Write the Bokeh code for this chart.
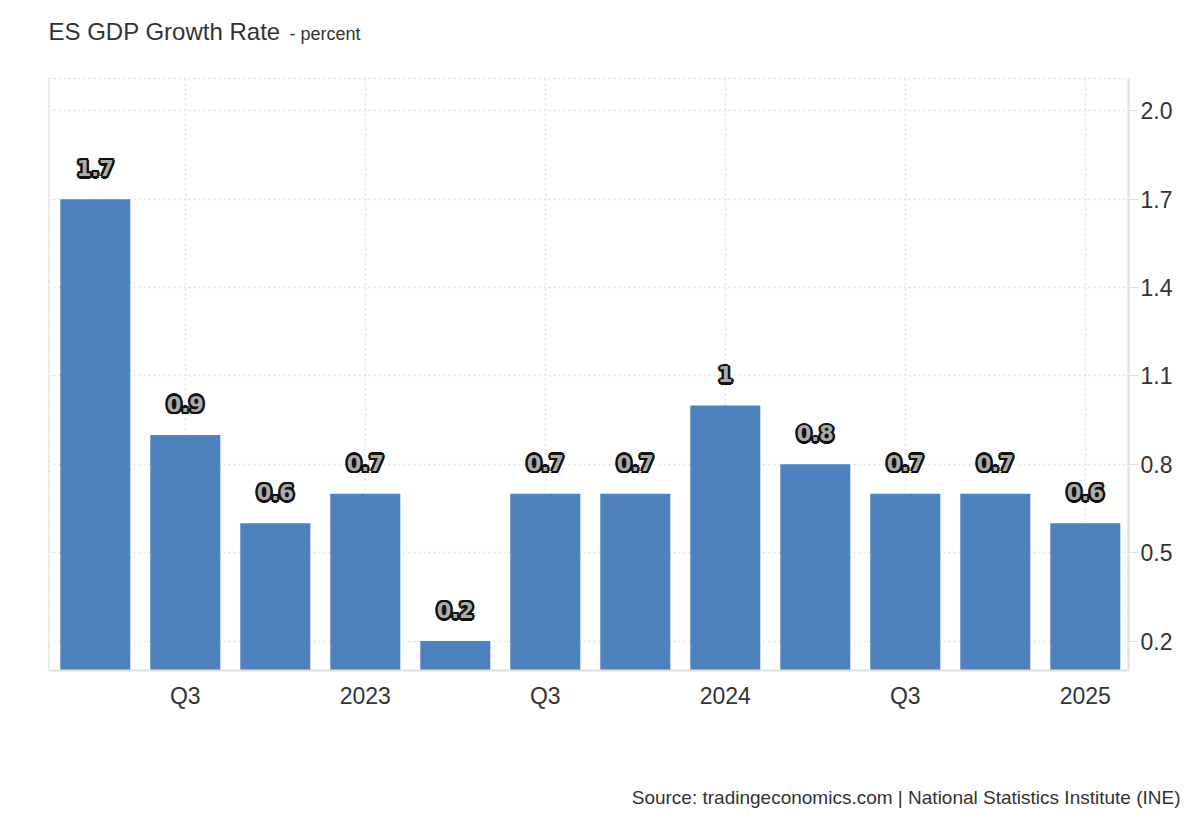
from bokeh.plotting import figure
from bokeh.models import ColumnDataSource, Range1d, FixedTicker, Span, Title
from bokeh.core.properties import value
from bokeh.embed import file_html
from bokeh.resources import INLINE

# ---- data ----
quarters = ["2022 Q2", "2022 Q3", "2022 Q4", "2023 Q1", "2023 Q2", "2023 Q3",
            "2023 Q4", "2024 Q1", "2024 Q2", "2024 Q3", "2024 Q4", "2025 Q1"]
growth = [1.7, 0.9, 0.6, 0.7, 0.2, 0.7, 0.7, 1.0, 0.8, 0.7, 0.7, 0.6]
x_tick_idx = [1, 3, 5, 7, 9, 11]
x_tick_labels = ["Q3", "2023", "Q3", "2024", "Q3", "2025"]
y_ticks = [0.2, 0.5, 0.8, 1.1, 1.4, 1.7, 2.0]
y_tick_labels = ["0.2", "0.5", "0.8", "1.1", "1.4", "1.7", "2.0"]

idx = list(range(len(quarters)))
src = ColumnDataSource(dict(x=idx, top=growth, q=quarters,
                            label=[f"{v:g}" for v in growth]))

FONT = "Liberation Sans"
TXT = "#333333"
GRID = "#e0e0e0"

p = figure(width=1184, height=812, output_backend="svg", toolbar_location=None,
           x_range=Range1d(-0.52, 11.48), y_range=Range1d(0.1, 2.11),
           min_border_left=48, min_border_right=56, min_border_top=78,
           min_border_bottom=142, y_axis_location="right")
p.background_fill_color = "white"
p.border_fill_color = "white"
p.outline_line_color = GRID
p.outline_line_dash = "2 3"
p.outline_line_width = 1.5

p.vbar(x="x", top="top", bottom=0, width=0.778, source=src,
       fill_color="#4f81bd", line_color=None)

# outlined data labels
LBL_OFF = -31
for dx, dy in [(-2.5, 0), (2.5, 0), (0, -2.5), (0, 2.5), (-1.8, -1.8), (1.8, -1.8), (-1.8, 1.8), (1.8, 1.8)]:
    p.text(x="x", y="top", text="label", source=src, x_offset=dx, y_offset=LBL_OFF + dy,
           text_align="center", text_baseline="alphabetic",
           text_font=value("DejaVu Sans"), text_font_style="bold",
           text_font_size="21px", text_color="#111111")
p.text(x="x", y="top", text="label", source=src, x_offset=0, y_offset=LBL_OFF,
       text_align="center", text_baseline="alphabetic",
       text_font=value("DejaVu Sans"), text_font_style="bold",
       text_font_size="21px", text_color="#acacac")

# left solid edge
p.add_layout(Span(location=-0.52, dimension="height", line_color=GRID, line_width=2))

# x axis
xa = p.xaxis[0]
xa.ticker = FixedTicker(ticks=x_tick_idx)
xa.major_label_overrides = {i: l for i, l in zip(x_tick_idx, x_tick_labels)}
xa.major_tick_out = 0
xa.major_tick_in = 0
xa.minor_tick_out = 0
xa.minor_tick_in = 0
xa.axis_line_color = GRID
xa.axis_line_width = 2
xa.major_label_standoff = 12
xa.major_label_text_font = FONT
xa.major_label_text_font_size = "23px"
xa.major_label_text_color = TXT

# y axis (right)
ya = p.yaxis[0]
ya.ticker = FixedTicker(ticks=y_ticks)
ya.major_label_overrides = {t: l for t, l in zip(y_ticks, y_tick_labels)}
ya.major_tick_out = 10
ya.major_tick_in = 0
ya.minor_tick_out = 0
ya.minor_tick_in = 0
ya.major_tick_line_color = GRID
ya.axis_line_color = GRID
ya.axis_line_width = 2
ya.major_label_standoff = 2
ya.major_label_text_font = FONT
ya.major_label_text_font_size = "23px"
ya.major_label_text_color = TXT

p.xgrid.ticker = FixedTicker(ticks=x_tick_idx)
p.ygrid.ticker = FixedTicker(ticks=y_ticks)
for g in (p.xgrid[0], p.ygrid[0]):
    g.grid_line_color = GRID
    g.grid_line_dash = "2 3"
    g.grid_line_width = 1.5

# titles (negative standoffs keep their panel size at zero so the frame stays put)
p.title.text = "ES GDP Growth Rate"
p.title.text_font = FONT
p.title.text_font_size = "24px"
p.title.text_font_style = "normal"
p.title.text_color = TXT
p.title.align = "left"
p.title.vertical_align = "top"
p.title.standoff = -121

p.add_layout(Title(text="- percent", text_font=FONT, text_font_size="18px",
                   text_font_style="normal", text_color=TXT, align="left",
                   vertical_align="top", offset=241, standoff=-110), "above")

p.add_layout(Title(text="Source: tradingeconomics.com | National Statistics Institute (INE)",
                   text_font=FONT, text_font_size="19px", text_font_style="normal",
                   text_color=TXT, align="right", vertical_align="bottom",
                   offset=-52, standoff=-192), "below")

open("out.html", "w").write(file_html(p, INLINE))
